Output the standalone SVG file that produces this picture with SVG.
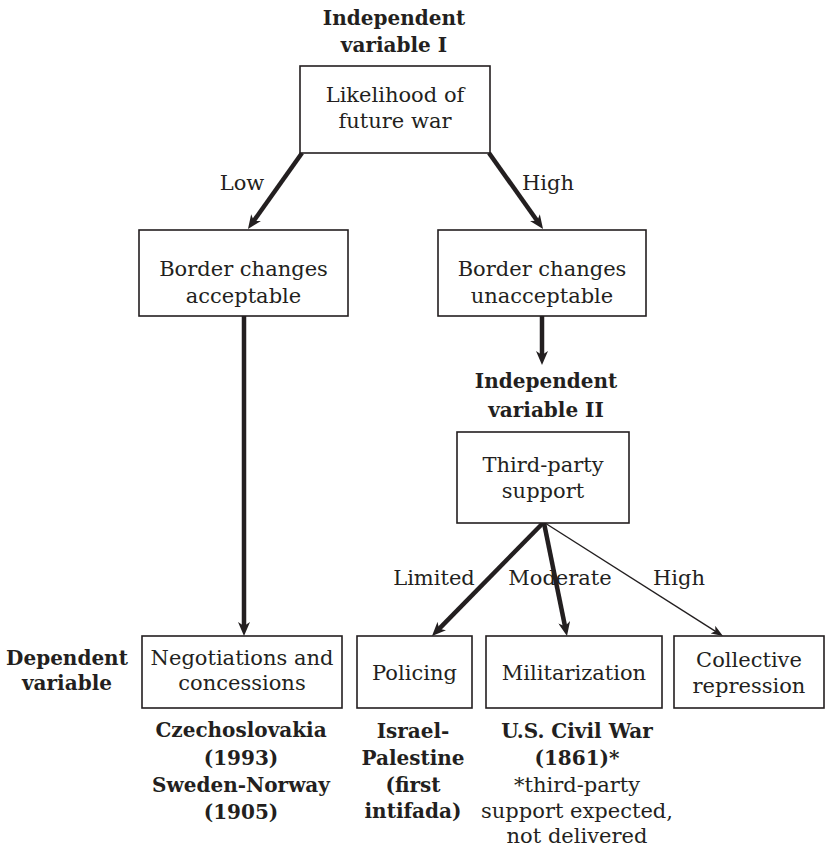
<svg xmlns="http://www.w3.org/2000/svg" width="825" height="850" viewBox="0 0 825 850">
<style>
  .box { fill: #ffffff; stroke: #231f20; stroke-width: 1.6; }
  text { font-family: "DejaVu Serif", "Liberation Serif", serif; fill: #231f20; text-anchor: middle; }
  .t { font-size: 21px; }
  .b { font-size: 20px; font-weight: bold; }
  .thick { stroke: #231f20; stroke-width: 4.5; fill: none; marker-end: url(#headThick); }
  .thin { stroke: #231f20; stroke-width: 1.4; fill: none; marker-end: url(#headThin); }
</style>
<defs>
  <marker id="headThick" markerUnits="userSpaceOnUse" viewBox="0 0 14 12" markerWidth="14" markerHeight="12" refX="6" refY="6" orient="auto">
    <path d="M0,0 L14,6 L0,12 L4,6 z" fill="#231f20"/>
  </marker>
  <marker id="headThin" markerUnits="userSpaceOnUse" viewBox="0 0 12 9" markerWidth="12" markerHeight="9" refX="6" refY="4.5" orient="auto">
    <path d="M0,0 L12,4.5 L0,9 L3,4.5 z" fill="#231f20"/>
  </marker>
</defs>
<rect width="825" height="850" fill="#ffffff"/>

<g id="connectors">
  <line class="thick" x1="302" y1="153" x2="252.6" y2="222.5"/>
  <line class="thick" x1="489" y1="153" x2="538.4" y2="222.5"/>
  <line class="thick" x1="244" y1="316" x2="244" y2="628"/>
  <line class="thick" x1="542" y1="316" x2="542" y2="357"/>
  <line class="thick" x1="543" y1="523" x2="437.6" y2="630.3"/>
  <line class="thick" x1="544" y1="523" x2="565.4" y2="628.2"/>
  <line class="thin" x1="545" y1="523" x2="717.9" y2="632.8"/>
  <text class="t" x="242" y="190">Low</text>
  <text class="t" x="548" y="190">High</text>
  <text class="t" x="434" y="585">Limited</text>
  <text class="t" x="560" y="585">Moderate</text>
  <text class="t" x="679" y="585">High</text>
</g>

<g id="label-iv1">
  <text class="b" x="394" y="25">Independent</text>
  <text class="b" x="394" y="52">variable I</text>
</g>
<g id="node-likelihood">
  <rect class="box" x="300" y="66" width="190" height="87"/>
  <text class="t" x="395" y="102">Likelihood of</text>
  <text class="t" x="395" y="128">future war</text>
</g>
<g id="node-acceptable">
  <rect class="box" x="139" y="230" width="209" height="86"/>
  <text class="t" x="243.5" y="276">Border changes</text>
  <text class="t" x="243.5" y="303">acceptable</text>
</g>
<g id="node-unacceptable">
  <rect class="box" x="438" y="230" width="208" height="86"/>
  <text class="t" x="542" y="276">Border changes</text>
  <text class="t" x="542" y="303">unacceptable</text>
</g>
<g id="label-iv2">
  <text class="b" x="546" y="388">Independent</text>
  <text class="b" x="546" y="417">variable II</text>
</g>
<g id="node-thirdparty">
  <rect class="box" x="457" y="432" width="172" height="91"/>
  <text class="t" x="543" y="472">Third-party</text>
  <text class="t" x="543" y="498">support</text>
</g>
<g id="label-dv">
  <text class="b" x="67" y="665">Dependent</text>
  <text class="b" x="67" y="690">variable</text>
</g>
<g id="node-negotiations">
  <rect class="box" x="142" y="636" width="200" height="72"/>
  <text class="t" x="242" y="665">Negotiations and</text>
  <text class="t" x="242" y="690">concessions</text>
</g>
<g id="node-policing">
  <rect class="box" x="357" y="636" width="115" height="72"/>
  <text class="t" x="414.5" y="680">Policing</text>
</g>
<g id="node-militarization">
  <rect class="box" x="486" y="636" width="176" height="72"/>
  <text class="t" x="574" y="680">Militarization</text>
</g>
<g id="node-collective">
  <rect class="box" x="674" y="636" width="150" height="72"/>
  <text class="t" x="749" y="667">Collective</text>
  <text class="t" x="749" y="693">repression</text>
</g>
<g id="cases-negotiations">
  <text class="b" x="241" y="737">Czechoslovakia</text>
  <text class="b" x="241" y="765">(1993)</text>
  <text class="b" x="241" y="792">Sweden-Norway</text>
  <text class="b" x="241" y="819">(1905)</text>
</g>
<g id="cases-policing">
  <text class="b" x="413" y="738">Israel-</text>
  <text class="b" x="413" y="765">Palestine</text>
  <text class="b" x="413" y="792">(first</text>
  <text class="b" x="413" y="818">intifada)</text>
</g>
<g id="cases-militarization">
  <text class="b" x="577" y="738">U.S. Civil War</text>
  <text class="b" x="577" y="765">(1861)*</text>
  <text class="t" x="577" y="792">*third-party</text>
  <text class="t" x="577" y="818">support expected,</text>
  <text class="t" x="577" y="843">not delivered</text>
</g>
</svg>
